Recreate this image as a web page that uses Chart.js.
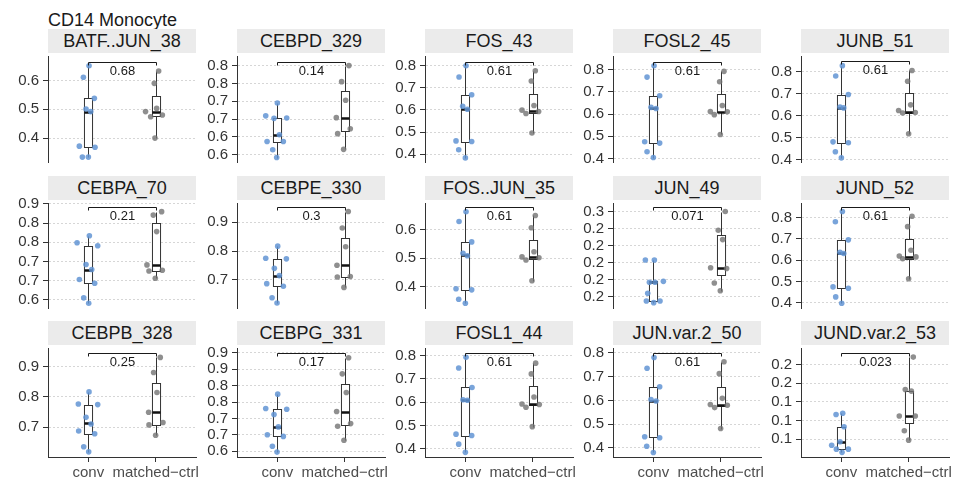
<!DOCTYPE html>
<html>
<head>
<meta charset="utf-8">
<script src="https://cdn.jsdelivr.net/npm/chart.js@4"></script>
<style>
  body { margin: 0; background: #fff; width: 965px; height: 487px; overflow: hidden; position: relative;
         font-family: "Liberation Sans", Arial, sans-serif; }
  canvas { position: absolute; }
  .strip { position: absolute; width: 148px; height: 24px; line-height: 25px; background: #ebebeb;
           color: #1a1a1a; font-size: 18px; text-align: center; white-space: nowrap; }
  #title { position: absolute; left: 48px; top: 10px; font-size: 18px; line-height: 20px; color: #1a1a1a; }
</style>
</head>
<body>
<div id="title">CD14 Monocyte</div>
<script>
// dados (linha por linha, 5 painéis por linha)
const panelNames = ['BATF..JUN_38', 'CEBPD_329', 'FOS_43', 'FOSL2_45', 'JUNB_51',
  'CEBPA_70', 'CEBPE_330', 'FOS..JUN_35', 'JUN_49', 'JUND_52',
  'CEBPB_328', 'CEBPG_331', 'FOSL1_44', 'JUN.var.2_50', 'JUND.var.2_53'];
const groups = ['conv', 'matched\u2212ctrl'];
const pLabels = ['0.68', '0.14', '0.61', '0.61', '0.61', '0.21', '0.3', '0.61', '0.071', '0.61',
  '0.25', '0.17', '0.61', '0.61', '0.023'];
const bracketY = [0.665, 0.836, 0.818, 0.835, 0.848, 0.867, 0.953, 0.680, 0.265, 0.850,
  0.945, 0.925, 0.811, 0.800, 0.2153];
const yMin = [0.317, 0.5545, 0.3645, 0.384, 0.388, 0.6035, 0.6026, 0.324, 0.1467, 0.375,
  0.601, 0.607, 0.365, 0.362, 0.0761];
const yMax = [0.685, 0.852, 0.844, 0.861, 0.872, 0.8776, 0.9666, 0.694, 0.27, 0.868,
  0.961, 0.940, 0.832, 0.821, 0.2222];

const tick5 = [0.4, 0.5, 0.6, 0.7, 0.8];
const tick5Lab = ['0.4', '0.5', '0.6', '0.7', '0.8'];
const tickVals = [
  [0.4, 0.5, 0.6], [0.575, 0.625, 0.675, 0.725, 0.775, 0.825], tick5, tick5, tick5,
  [0.625, 0.675, 0.725, 0.775, 0.825, 0.875], [0.7, 0.8, 0.9], [0.4, 0.5, 0.6], [0.16, 0.18, 0.20, 0.22, 0.24, 0.26], tick5,
  [0.7, 0.8, 0.9], [0.625, 0.675, 0.725, 0.775, 0.825, 0.875, 0.925], tick5, tick5, [0.1, 0.125, 0.15, 0.175, 0.2]
];
const tickLabels = [
  ['0.4', '0.5', '0.6'], ['0.6', '0.6', '0.7', '0.7', '0.8', '0.8'], tick5Lab, tick5Lab, tick5Lab,
  ['0.6', '0.7', '0.7', '0.8', '0.8', '0.9'], ['0.7', '0.8', '0.9'], ['0.4', '0.5', '0.6'], ['0.2', '0.2', '0.2', '0.2', '0.2', '0.3'], tick5Lab,
  ['0.7', '0.8', '0.9'], ['0.6', '0.7', '0.7', '0.8', '0.8', '0.9', '0.9'], tick5Lab, tick5Lab, ['0.1', '0.1', '0.1', '0.2', '0.2']
];

// pontos: valor + deslocamento do jitter (em unidades da categoria)
const convVals = [
  [0.651, 0.611, 0.538, 0.501, 0.492, 0.372, 0.368, 0.334, 0.334],
  [0.720, 0.684, 0.678, 0.677, 0.631, 0.612, 0.612, 0.589, 0.567],
  [0.800, 0.749, 0.669, 0.617, 0.603, 0.460, 0.457, 0.420, 0.383],
  [0.817, 0.766, 0.682, 0.630, 0.625, 0.475, 0.469, 0.430, 0.404],
  [0.828, 0.781, 0.696, 0.639, 0.635, 0.480, 0.476, 0.435, 0.407],
  [0.792, 0.774, 0.766, 0.717, 0.704, 0.678, 0.668, 0.630, 0.616],
  [0.817, 0.775, 0.773, 0.740, 0.715, 0.687, 0.678, 0.638, 0.620],
  [0.663, 0.629, 0.557, 0.517, 0.508, 0.392, 0.388, 0.355, 0.341],
  [0.203, 0.203, 0.178, 0.177, 0.177, 0.164, 0.155, 0.153, 0.155],
  [0.828, 0.780, 0.695, 0.637, 0.631, 0.474, 0.468, 0.427, 0.397],
  [0.816, 0.776, 0.774, 0.732, 0.710, 0.687, 0.678, 0.635, 0.618],
  [0.799, 0.755, 0.753, 0.737, 0.699, 0.675, 0.670, 0.640, 0.622],
  [0.792, 0.746, 0.663, 0.610, 0.608, 0.463, 0.457, 0.420, 0.385],
  [0.781, 0.736, 0.658, 0.604, 0.598, 0.447, 0.443, 0.407, 0.381],
  [0.1348, 0.133, 0.1166, 0.0966, 0.0918, 0.0866, 0.0823, 0.0866]
];
const convJit = [
  [0.01, -0.074, 0.089, -0.035, 0.035, -0.134, 0.099, -0.089, 0],
  [0, -0.173, 0.139, -0.05, 0.03, -0.153, 0.089, -0.069, -0.01],
  [0.01, -0.094, 0.094, -0.04, 0.03, -0.139, 0.094, -0.099, 0],
  [0.01, -0.094, 0.094, -0.035, 0.04, -0.129, 0.094, -0.094, 0],
  [0.015, -0.084, 0.104, -0.02, 0.035, -0.124, 0.104, -0.089, 0],
  [0.015, -0.168, 0.139, -0.035, 0.05, -0.134, 0.094, -0.069, 0.005],
  [0.005, -0.173, 0.134, -0.045, 0.03, -0.158, 0.089, -0.079, -0.005],
  [0.01, -0.094, 0.094, -0.035, 0.03, -0.139, 0.094, -0.099, 0],
  [-0.119, 0.015, 0.149, -0.059, 0.025, -0.084, -0.104, 0.005, 0.099],
  [0.015, -0.089, 0.104, -0.02, 0.035, -0.124, 0.104, -0.084, 0.005],
  [0.01, -0.149, 0.139, -0.035, 0.04, -0.144, 0.094, -0.069, 0.005],
  [0.005, -0.173, 0.139, -0.05, 0.015, -0.149, 0.089, -0.074, -0.005],
  [0.01, -0.099, 0.099, -0.035, 0.03, -0.139, 0.094, -0.099, 0],
  [0.01, -0.094, 0.094, -0.035, 0.04, -0.129, 0.094, -0.099, 0],
  [0.02, -0.079, 0.04, -0.02, -0.144, -0.074, 0.01, 0.104]
];
const ctrlVals = [
  [0.633, 0.590, 0.503, 0.492, 0.474, 0.480, 0.400],
  [0.825, 0.780, 0.728, 0.679, 0.648, 0.634, 0.590],
  [0.777, 0.731, 0.620, 0.599, 0.584, 0.593, 0.496],
  [0.792, 0.745, 0.638, 0.611, 0.597, 0.610, 0.508],
  [0.806, 0.757, 0.649, 0.623, 0.612, 0.614, 0.517],
  [0.855, 0.846, 0.803, 0.716, 0.700, 0.702, 0.681],
  [0.937, 0.880, 0.815, 0.751, 0.710, 0.712, 0.674],
  [0.650, 0.607, 0.522, 0.504, 0.493, 0.501, 0.420],
  [0.260, 0.238, 0.227, 0.194, 0.193, 0.176, 0.167],
  [0.806, 0.757, 0.646, 0.619, 0.606, 0.615, 0.512],
  [0.930, 0.880, 0.814, 0.749, 0.707, 0.715, 0.673],
  [0.910, 0.861, 0.804, 0.746, 0.701, 0.709, 0.658],
  [0.767, 0.721, 0.622, 0.592, 0.578, 0.590, 0.495],
  [0.763, 0.713, 0.609, 0.583, 0.570, 0.580, 0.482],
  [0.210, 0.1665, 0.1644, 0.131, 0.131, 0.1113, 0.0987]
];
const ctrlJit = [
  [0.045, -0.02, 0.015, -0.15, -0.074, 0.1, -0.01],
  [0.064, -0.045, 0.015, -0.124, 0.084, -0.104, -0.015],
  [0.04, -0.02, 0.02, -0.158, -0.099, 0.089, -0.01],
  [0.05, -0.015, 0.025, -0.153, -0.094, 0.099, -0.005],
  [0.05, -0.015, 0.03, -0.149, -0.089, 0.099, 0],
  [0.089, -0.035, 0.015, -0.129, -0.099, 0.099, -0.005],
  [0.054, -0.035, 0.015, -0.114, -0.109, 0.084, -0.01],
  [0.04, -0.02, 0.02, -0.158, -0.099, 0.094, -0.01],
  [0.069, -0.035, 0.03, -0.149, 0.089, -0.094, -0.005],
  [0.05, -0.015, 0.035, -0.139, -0.089, 0.109, 0],
  [0.069, -0.03, 0.02, -0.104, -0.099, 0.109, 0],
  [0.059, -0.035, 0.025, -0.119, -0.104, 0.089, -0.01],
  [0.045, -0.02, 0.02, -0.158, -0.099, 0.099, -0.005],
  [0.05, -0.02, 0.025, -0.153, -0.089, 0.099, 0],
  [0.069, -0.05, 0.04, -0.139, 0.099, -0.064, 0]
];
// caixas: [mín whisker, q1, mediana, q3, máx whisker]
const convBox = [
  [0.334, 0.368, 0.492, 0.538, 0.651], [0.567, 0.612, 0.630, 0.678, 0.720], [0.383, 0.457, 0.606, 0.668, 0.800],
  [0.404, 0.469, 0.625, 0.682, 0.817], [0.407, 0.476, 0.636, 0.696, 0.828], [0.616, 0.668, 0.704, 0.765, 0.792],
  [0.620, 0.678, 0.712, 0.773, 0.817], [0.341, 0.388, 0.510, 0.557, 0.663], [0.153, 0.155, 0.177, 0.178, 0.203],
  [0.397, 0.468, 0.631, 0.694, 0.828], [0.618, 0.678, 0.712, 0.773, 0.816], [0.622, 0.670, 0.699, 0.753, 0.799],
  [0.385, 0.457, 0.608, 0.663, 0.792], [0.381, 0.445, 0.599, 0.656, 0.781], [0.0823, 0.087, 0.0966, 0.1157, 0.1348]
];
const ctrlBox = [
  [0.400, 0.476, 0.492, 0.545, 0.633], [0.590, 0.642, 0.679, 0.754, 0.825], [0.496, 0.588, 0.596, 0.674, 0.777],
  [0.508, 0.608, 0.611, 0.690, 0.792], [0.517, 0.612, 0.617, 0.702, 0.806], [0.681, 0.700, 0.717, 0.825, 0.855],
  [0.674, 0.710, 0.751, 0.846, 0.937], [0.420, 0.497, 0.503, 0.562, 0.650], [0.167, 0.185, 0.194, 0.2326, 0.260],
  [0.512, 0.607, 0.615, 0.699, 0.806], [0.673, 0.707, 0.750, 0.846, 0.930], [0.658, 0.706, 0.745, 0.831, 0.910],
  [0.495, 0.586, 0.590, 0.670, 0.767], [0.482, 0.575, 0.583, 0.657, 0.763], [0.0987, 0.1214, 0.1313, 0.1644, 0.210]
];

const FONT = '"Liberation Sans", Arial, sans-serif';
const colLeft = [48, 237, 425, 613, 801];
const stripTop = [29, 176, 321];
const plotTop = [53, 200, 345];
const plotH = [112, 111, 112];

const boxPlugin = {
  id: 'boxes',
  beforeDatasetsDraw(chart, args, o) {
    const { ctx, scales: { x, y } } = chart;
    ctx.save();
    o.stats.forEach((b, g) => {
      const cx = Math.round(x.getPixelForValue(g + 1)) + 0.5;
      const hw = x.getPixelForValue(g + 1.06) - x.getPixelForValue(g + 1);
      const [lo, q1, md, q3, hi] = b.map(v => Math.round(y.getPixelForValue(v)) + 0.5);
      ctx.strokeStyle = '#333'; ctx.lineWidth = 1;
      ctx.beginPath();
      ctx.moveTo(cx, lo); ctx.lineTo(cx, q1);
      ctx.moveTo(cx, q3); ctx.lineTo(cx, hi);
      ctx.stroke();
      ctx.fillStyle = '#fff';
      ctx.fillRect(cx - hw, q3, 2 * hw, q1 - q3);
      ctx.strokeRect(cx - hw, q3, 2 * hw, q1 - q3);
      ctx.strokeStyle = '#111'; ctx.lineWidth = 2.5;
      ctx.beginPath(); ctx.moveTo(cx - hw, md); ctx.lineTo(cx + hw, md); ctx.stroke();
    });
    ctx.restore();
  },
  afterDatasetsDraw(chart, args, o) {
    const { ctx, scales: { x, y } } = chart;
    const x1 = Math.round(x.getPixelForValue(1)) + 0.5, x2 = Math.round(x.getPixelForValue(2)) + 0.5;
    const yb = Math.round(y.getPixelForValue(o.bracket)) + 0.5;
    ctx.save();
    ctx.strokeStyle = '#1a1a1a'; ctx.lineWidth = 1;
    ctx.beginPath();
    ctx.moveTo(x1, yb + 3); ctx.lineTo(x1, yb); ctx.lineTo(x2, yb); ctx.lineTo(x2, yb + 3);
    ctx.stroke();
    ctx.fillStyle = '#1a1a1a';
    ctx.font = '13px ' + FONT;
    ctx.textAlign = 'center'; ctx.textBaseline = 'middle';
    ctx.fillText(o.p, (x1 + x2) / 2, yb + 9);
    ctx.restore();
  }
};

panelNames.forEach((name, i) => {
  const row = Math.floor(i / 5), col = i % 5;
  const last = row === 2;

  const strip = document.createElement('div');
  strip.className = 'strip';
  strip.style.left = colLeft[col] + 'px';
  strip.style.top = stripTop[row] + 'px';
  strip.textContent = name;
  document.body.appendChild(strip);

  const cv = document.createElement('canvas');
  const h = plotH[row] + 10 + (last ? 30 : 10);
  cv.width = 200; cv.height = h;
  cv.style.left = (colLeft[col] - 48) + 'px';
  cv.style.top = (plotTop[row] - 10) + 'px';
  cv.style.width = '200px'; cv.style.height = h + 'px';
  document.body.appendChild(cv);

  const tv = tickVals[i], tl = tickLabels[i];
  new Chart(cv.getContext('2d'), {
    type: 'scatter',
    data: {
      datasets: [
        { data: convVals[i].map((v, j) => ({ x: 1 + convJit[i][j], y: v })),
          pointRadius: 2.8, pointBorderWidth: 0, pointBackgroundColor: 'rgba(98,148,212,0.85)' },
        { data: ctrlVals[i].map((v, j) => ({ x: 2 + ctrlJit[i][j], y: v })),
          pointRadius: 2.8, pointBorderWidth: 0, pointBackgroundColor: 'rgba(115,115,115,0.8)' },
      ],
    },
    options: {
      responsive: false, maintainAspectRatio: false, animation: false, devicePixelRatio: 1,
      layout: { padding: { top: 10, bottom: last ? 0 : 10, left: 0, right: 4 } },
      plugins: {
        legend: { display: false }, tooltip: { enabled: false },
        boxes: { stats: [convBox[i], ctrlBox[i]], bracket: bracketY[i], p: pLabels[i] },
      },
      scales: {
        x: {
          type: 'linear', min: 0.4, max: 2.6, display: last,
          afterBuildTicks: s => { s.ticks = [{ value: 1 }, { value: 2 }]; },
          afterFit: s => { s.height = last ? 30 : 0; s.paddingLeft = 0; s.paddingRight = 0; },
          ticks: { callback: (v, k) => groups[k], font: { size: 15, family: FONT }, color: '#4d4d4d',
                   padding: 2, maxRotation: 0, autoSkip: false },
          grid: { drawOnChartArea: false, tickLength: 5, tickColor: '#333', color: '#333' },
          border: { color: '#333', width: 1 },
        },
        y: {
          min: yMin[i], max: yMax[i],
          afterBuildTicks: s => { s.ticks = tv.map(v => ({ value: v })); },
          afterFit: s => { s.width = 48; },
          ticks: { callback: (v, k) => tl[k], font: { size: 15, family: FONT }, color: '#333',
                   padding: 4, autoSkip: false },
          grid: { color: '#d6d6d6', lineWidth: 1, tickLength: 5, tickColor: '#333', tickBorderDash: [] },
          border: { color: '#333', width: 1, dash: [2, 2] },
        },
      },
    },
    plugins: [boxPlugin],
  });
});
</script>
</body>
</html>
